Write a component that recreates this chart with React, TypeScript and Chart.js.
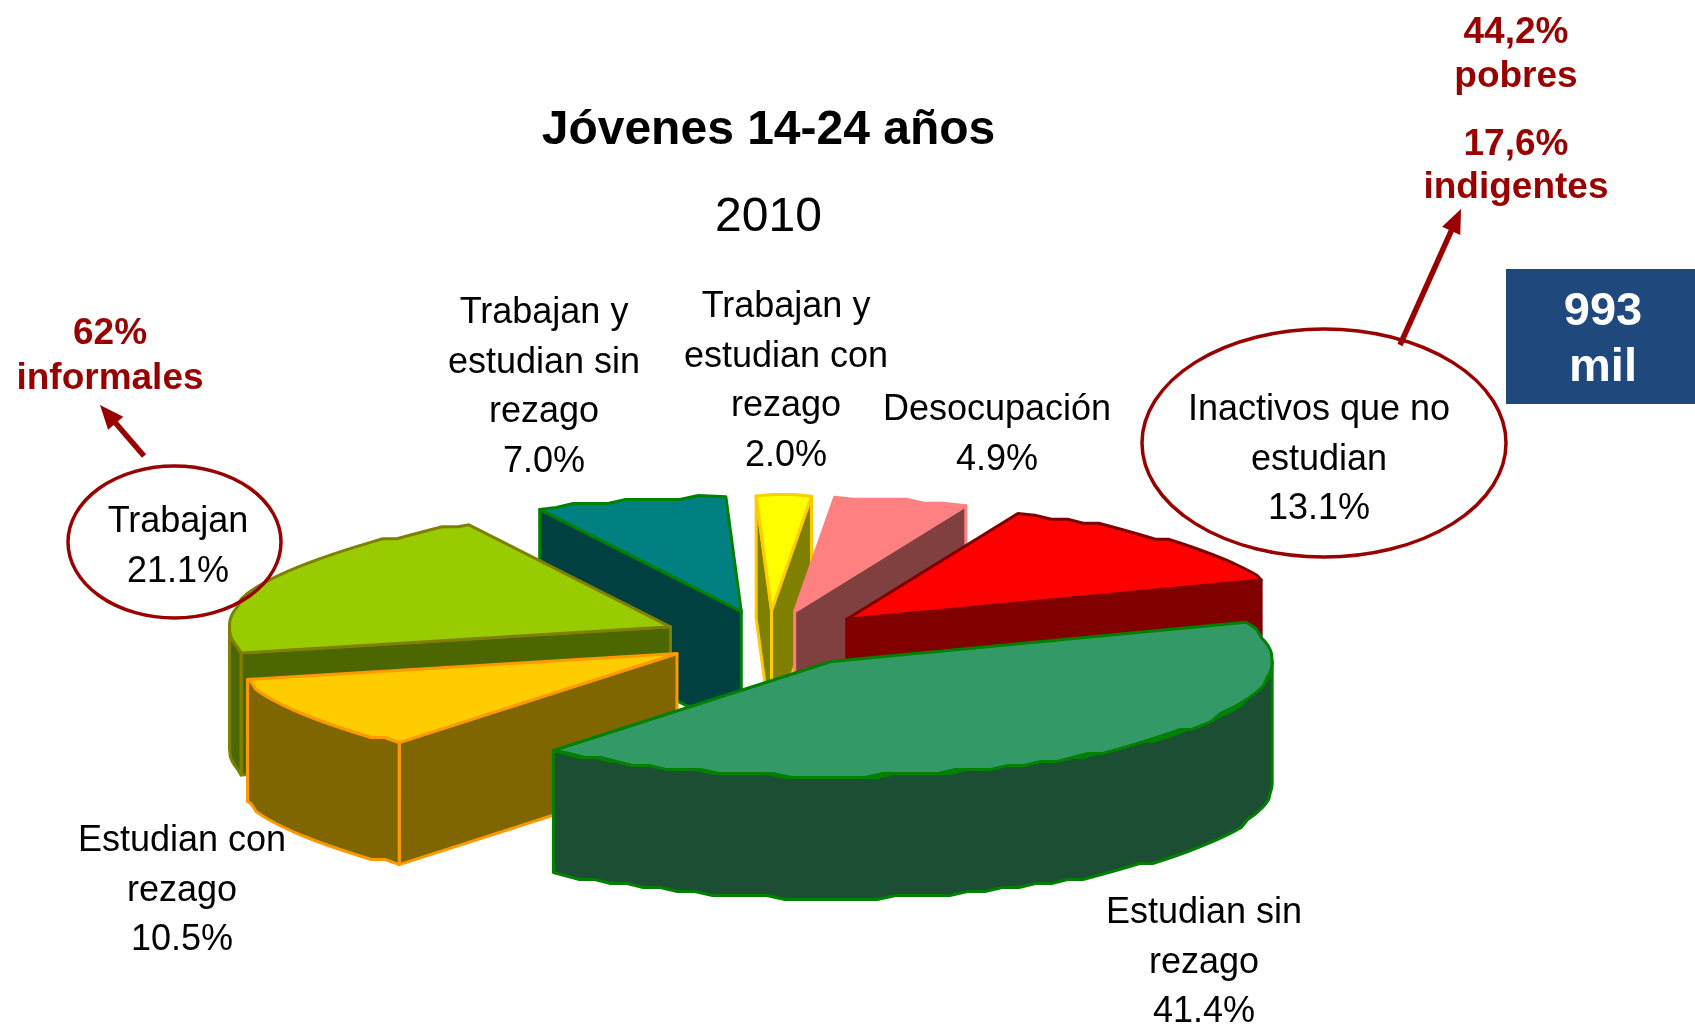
import React, { useEffect, useRef } from "react";
import { Chart, registerables } from "chart.js";

Chart.register(...registerables);

// ---- data ----
const categories = [
  "Estudian sin rezago",
  "Estudian con rezago",
  "Trabajan",
  "Trabajan y estudian sin rezago",
  "Trabajan y estudian con rezago",
  "Desocupación",
  "Inactivos que no estudian",
];
const shares = [41.4, 10.5, 21.1, 7.0, 2.0, 4.9, 13.1];
const labelLines = [
  ["Estudian sin", "rezago"],
  ["Estudian con", "rezago"],
  ["Trabajan"],
  ["Trabajan y", "estudian sin", "rezago"],
  ["Trabajan y", "estudian con", "rezago"],
  ["Desocupación"],
  ["Inactivos que no", "estudian"],
];
const topColors = ["#339966", "#FFCC00", "#99CC00", "#008080", "#FFFF00", "#FF8080", "#FF0000"];
const sideColors = ["#1C4E33", "#806600", "#4C6600", "#004040", "#808000", "#804040", "#800000"];
const edgeColors = ["#008000", "#FF9900", "#808000", "#008000", "#FFCC00", "#FF8080", "#800000"];
const titleText = "Jóvenes 14-24 años";
const subtitleText = "2010";
const informalNote = ["62%", "informales"];
const povertyNote = ["44,2%", "pobres"];
const indigenceNote = ["17,6%", "indigentes"];
const totalNote = ["993", "mil"];

// ---- layout ----
const W = 1695;
const H = 1025;
const FONT = '"Liberation Sans", Arial, sans-serif';
const DARK_RED = "#990000";
const SQUASH = 0.26;
const DEPTH = 122;
const RADIUS = 441;
const EXPLODE = 108;
const RAG = 4;
const LABEL_PITCH = 49.7;
const LABEL_CENTERS: [number, number][] = [
  [1204, 913],
  [182, 841],
  [178, 522],
  [544, 313],
  [786, 307],
  [997, 410],
  [1319, 410],
];

const rad = (d: number) => (d * Math.PI) / 180;

function slicePoints(arc: any, explode: number) {
  const { x, y, startAngle, endAngle, outerRadius } = arc.getProps(
    ["x", "y", "startAngle", "endAngle", "outerRadius"],
    true
  );
  const mid = (startAngle + endAngle) / 2;
  const ox = x + explode * Math.cos(mid);
  const oy = y + explode * Math.sin(mid) * SQUASH;
  const pt = (t: number, snap = true) => {
    const dy = outerRadius * Math.sin(t) * SQUASH;
    return [ox + outerRadius * Math.cos(t), oy + (snap ? Math.round(dy / RAG) * RAG : dy)];
  };
  const ragged = (a: number, b: number) => {
    const out: number[][] = [pt(a, false)];
    const step = rad(2.4);
    for (let t = a + step; t < b - step / 2; t += step) out.push(pt(t));
    out.push(pt(b, false));
    return out;
  };
  return { ox, oy, startAngle, endAngle, ragged, mid };
}

function poly(ctx: CanvasRenderingContext2D, pts: number[][], fill: string, edge: string, lw: number) {
  ctx.beginPath();
  pts.forEach((p, i) => (i ? ctx.lineTo(p[0], p[1]) : ctx.moveTo(p[0], p[1])));
  ctx.closePath();
  ctx.fillStyle = fill;
  ctx.fill();
  ctx.strokeStyle = edge;
  ctx.lineWidth = lw;
  ctx.lineJoin = "round";
  ctx.stroke();
}

const pie3d = {
  id: "pie3d",
  beforeDatasetDraw(chart: any, args: any) {
    const ctx: CanvasRenderingContext2D = chart.ctx;
    const arcs: any[] = args.meta.data;
    const order = arcs
      .map((a, i) => {
        const { startAngle, endAngle } = a.getProps(["startAngle", "endAngle"], true);
        return { i, s: Math.sin((startAngle + endAngle) / 2) };
      })
      .sort((a, b) => a.s - b.s);
    for (const { i } of order) {
      const arc = arcs[i];
      const lw = arc.options.borderWidth;
      const edge = arc.options.borderColor;
      const top = arc.options.backgroundColor;
      const side = sideColors[i];
      const g = slicePoints(arc, arc.options.offset);
      const rim = g.ragged(g.startAngle, g.endAngle);
      const first = rim[0];
      const last = rim[rim.length - 1];
      const down = (p: number[]) => [p[0], p[1] + DEPTH];
      const apex = [g.ox, g.oy];
      // radial walls: only those turned towards the viewer
      if (Math.sin(g.startAngle - Math.PI / 2) > 0) {
        poly(ctx, [apex, first, down(first), down(apex)], side, edge, lw);
      }
      if (Math.sin(g.endAngle + Math.PI / 2) > 0) {
        poly(ctx, [apex, last, down(last), down(apex)], side, edge, lw);
      }
      // outer wall: only the part turned towards the viewer
      const turns = [0, 2 * Math.PI, -2 * Math.PI];
      for (const k of turns) {
        const a = Math.max(g.startAngle, k);
        const b = Math.min(g.endAngle, k + Math.PI);
        if (b > a) {
          const seg = g.ragged(a, b);
          poly(ctx, [...seg, ...seg.slice().reverse().map(down)], side, edge, lw);
        }
      }
      // top face
      poly(ctx, [apex, ...rim], top, edge, lw);
    }
    return false;
  },
};

function centered(ctx: CanvasRenderingContext2D, text: string, x: number, y: number) {
  ctx.fillText(text, x, y);
}

function arrow(ctx: CanvasRenderingContext2D, x0: number, y0: number, x1: number, y1: number) {
  const a = Math.atan2(y1 - y0, x1 - x0);
  const L = 24;
  const w = 10;
  ctx.strokeStyle = DARK_RED;
  ctx.fillStyle = DARK_RED;
  ctx.lineWidth = 5.5;
  ctx.beginPath();
  ctx.moveTo(x0, y0);
  ctx.lineTo(x1 - L * 0.8 * Math.cos(a), y1 - L * 0.8 * Math.sin(a));
  ctx.stroke();
  ctx.beginPath();
  ctx.moveTo(x1, y1);
  ctx.lineTo(x1 - L * Math.cos(a) + w * Math.sin(a), y1 - L * Math.sin(a) - w * Math.cos(a));
  ctx.lineTo(x1 - L * Math.cos(a) - w * Math.sin(a), y1 - L * Math.sin(a) + w * Math.cos(a));
  ctx.closePath();
  ctx.fill();
}

const notes = {
  id: "notes",
  afterDraw(chart: any) {
    const ctx: CanvasRenderingContext2D = chart.ctx;
    ctx.save();
    ctx.textAlign = "center";
    ctx.textBaseline = "middle";

    // ellipses
    ctx.strokeStyle = DARK_RED;
    ctx.lineWidth = 3.5;
    ctx.beginPath();
    ctx.ellipse(174.5, 542, 106.5, 76, 0, 0, Math.PI * 2);
    ctx.stroke();
    ctx.beginPath();
    ctx.ellipse(1324, 443, 182, 114, 0, 0, Math.PI * 2);
    ctx.stroke();
    arrow(ctx, 144, 456, 100, 405);
    arrow(ctx, 1400, 345, 1461, 209);

    // slice labels
    ctx.fillStyle = "#000";
    ctx.font = `36px ${FONT}`;
    labelLines.forEach((lines, i) => {
      const all = [...lines, `${shares[i].toFixed(1)}%`];
      const [cx, cy] = LABEL_CENTERS[i];
      all.forEach((t, j) => centered(ctx, t, cx, cy + j * LABEL_PITCH));
    });

    // notes
    ctx.fillStyle = DARK_RED;
    ctx.font = `bold 37px ${FONT}`;
    centered(ctx, informalNote[0], 110, 334);
    centered(ctx, informalNote[1], 110, 379);
    centered(ctx, povertyNote[0], 1516, 33);
    centered(ctx, povertyNote[1], 1516, 77);
    centered(ctx, indigenceNote[0], 1516, 145);
    centered(ctx, indigenceNote[1], 1516, 188);

    // total box
    ctx.fillStyle = "#1F497D";
    ctx.fillRect(1506, 269, 189, 135);
    ctx.fillStyle = "#FFF";
    ctx.font = `bold 47px ${FONT}`;
    centered(ctx, totalNote[0], 1603, 312);
    centered(ctx, totalNote[1], 1603, 368);
    ctx.restore();
  },
};

export default function App() {
  const ref = useRef<HTMLCanvasElement>(null);
  useEffect(() => {
    const chart = new Chart(ref.current as HTMLCanvasElement, {
      type: "pie",
      data: {
        labels: categories,
        datasets: [
          {
            data: shares,
            backgroundColor: topColors,
            borderColor: edgeColors,
            borderWidth: 3,
            offset: EXPLODE,
            radius: RADIUS,
          } as any,
        ],
      },
      options: {
        responsive: false,
        animation: false,
        devicePixelRatio: 1,
        rotation: 70,
        layout: { padding: { top: 102, right: 158, bottom: 0, left: 0 } },
        events: [],
        plugins: {
          legend: { display: false },
          tooltip: { enabled: false },
          title: {
            display: true,
            fullSize: false,
            text: titleText,
            color: "#000",
            font: { family: FONT, size: 48, weight: "bold" },
            padding: { top: 0, bottom: 29 },
          },
          subtitle: {
            display: true,
            fullSize: false,
            text: subtitleText,
            color: "#000",
            font: { family: FONT, size: 48, weight: "normal" },
            padding: { top: 0, bottom: 6 },
          },
        },
      } as any,
      plugins: [pie3d, notes],
    });
    return () => chart.destroy();
  }, []);
  return (
    <div style={{ position: "fixed", left: 0, top: 0, width: W, height: H, background: "#fff" }}>
      <canvas ref={ref} width={W} height={H} style={{ display: "block", width: W, height: H }} />
    </div>
  );
}
